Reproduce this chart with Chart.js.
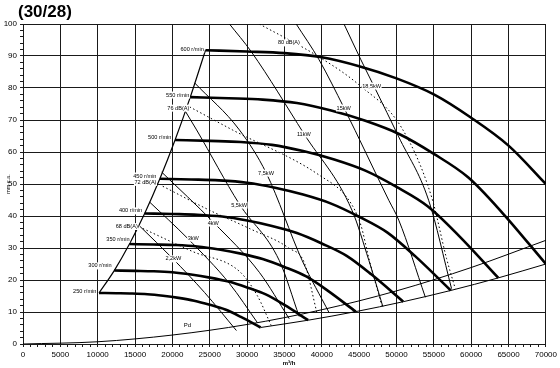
<!DOCTYPE html>
<html><head><meta charset="utf-8">
<script src="https://cdn.jsdelivr.net/npm/chart.js@4"></script>
<style>html,body{margin:0;padding:0;background:#fff}#wrap{width:560px;height:368px;position:relative}</style>
</head><body><div id="wrap"><canvas id="c"></canvas></div>
<script>
// ---- fan speed curves (flow m3/h, pressure mm c.a.) ----
const speedNames = ['250 r/min','300 r/min','350 r/min','400 r/min','450 r/min','500 r/min','550 r/min','600 r/min'];
const flow250 = [10179,12500,14583,16667,18750,20833,22917,25000,27083,29167,31817];
const press250 = [15.94,15.87,15.78,15.56,15.07,14.41,13.54,12.27,10.76,8.47,5.16];
const flow300 = [12215,15000,17500,20000,22500,25000,27500,30000,32500,35000,38180];
const press300 = [22.95,22.85,22.73,22.40,21.70,20.75,19.50,17.68,15.50,12.20,7.44];
const flow350 = [14251,17500,20417,23333,26250,29167,32083,35000,37917,40833,44543];
const press350 = [31.24,31.10,30.93,30.49,29.54,28.24,26.54,24.06,21.10,16.61,10.12];
const flow400 = [16287,20000,23333,26667,30000,33333,36667,40000,43333,46667,50907];
const press400 = [40.80,40.62,40.40,39.82,38.58,36.89,34.67,31.42,27.56,21.69,13.22];
const flow450 = [18323,22500,26250,30000,33750,37500,41250,45000,48750,52500,57270];
const press450 = [51.64,51.41,51.13,50.40,48.83,46.69,43.88,39.77,34.88,27.45,16.73];
const flow500 = [20358,25000,29167,33333,37500,41667,45833,50000,54167,58333,63633];
const press500 = [63.75,63.47,63.13,62.22,60.28,57.64,54.17,49.10,43.06,33.89,20.66];
const flow550 = [22394,27500,32083,36667,41250,45833,50417,55000,59583,64167,70000];
const press550 = [77.14,76.80,76.38,75.29,72.94,69.74,65.54,59.41,52.10,41.01,25.0];
const flow600 = [24430,30000,35000,40000,45000,50000,55000,60000,65000,70000];
const press600 = [91.8,91.4,90.9,89.6,86.8,83.0,78.0,70.7,62.0,50.0];

// ---- left limit (starts of speed curves) ----
const limitFlow = [10179,12215,14251,16287,18323,20358,22394,24430];
const limitPress = [15.94,22.95,31.24,40.80,51.64,63.75,77.14,91.8];

// ---- right limit (ends of speed curves) ----
const endFlow = [31817,38180,44543,50907,57270,63633,70000];
const endPress = [5.16,7.44,10.12,13.22,16.73,20.66,25.0];

// ---- dynamic pressure Pd ----
const pdFlow = [0,10000,20000,30000,40000,50000,60000,70000];
const pdPress = [0,0.7,2.8,6.1,10.7,16.6,23.9,32.4];

// ---- absorbed power lines ----
const powerNames = ['2,2kW','3kW','4kW','5,5kW','7,5kW','11kW','15kW','18,5kW'];
const pw22Flow = [15640,20040,24306,28573];      const pw22Press = [36.8,26.7,16.1,4.2];
const pw3Flow  = [16973,22040,27640,31373];      const pw3Press  = [44.3,33.0,18.9,6.7];
const pw4Flow  = [18573,25506,31640,35640];      const pw4Press  = [53.7,38.0,22.4,7.9];
const pw55Flow = [21640,23240,28973,34306,36973]; const pw55Press = [73.1,66.9,43.7,26.1,8.6];
const pw75Flow = [22973,28973,32573,37373,40973]; const pw75Press = [81.6,66.9,53.4,26.1,9.8];
const pw11Flow = [27640,30573,37640,44040,46306,48173]; const pw11Press = [100,91.3,65.6,41.8,26.1,11.7];
const pw15Flow = [36573,39640,42973,48973,50306,53866]; const pw15Press = [100,88.8,73.8,44.9,38.7,14.6];
const pw185Flow = [42973,45240,47106,50306,54306,57373]; const pw185Press = [100,88.8,80.0,64.7,44.9,17.3];

// ---- noise lines ----
const noiseNames = ['68 dB(A)','72 dB(A)','76 dB(A)','80 dB(A)'];
const n68Flow = [16040,22706,28973,31373,33240]; const n68Press = [36.1,28.9,22.7,15.1,5.7];
const n72Flow = [18706,24973,30306,35640,37640,39373]; const n72Press = [49.3,41.8,36.1,29.9,25.5,9.5];
const n76Flow = [22306,28040,39640,43640,45240,46306,48040]; const n76Press = [74.1,66.9,52.8,44.9,37.1,26.7,12.0];
const n80Flow = [31640,39640,44973,50706,54706,56706,57866]; const n80Press = [100,89.7,81.0,67.5,45.9,26.7,17.3];

// ---- label anchors (data units) ----
const speedLabelFlow = [9830,11870,14270,15960,17870,19870,22270,24200];
const speedLabelPress = [16.5,24.4,32.8,41.6,52.5,64.4,77.8,92.0];
const noiseLabelFlow = [15370,17870,22270,35600];
const noiseLabelPress = [36.7,50.5,73.7,94.1];
const powerLabelFlow = [20130,22800,25470,28930,32530,37600,42930,46670];
const powerLabelPress = [26.6,33.1,37.8,43.4,53.4,65.6,73.75,80.6];
const pdLabelFlow = 22000, pdLabelPress = 5.9;

const xTicks = [0,5000,10000,15000,20000,25000,30000,35000,40000,45000,50000,55000,60000,65000,70000];
const yTicks = [0,10,20,30,40,50,60,70,80,90,100];

function pts(xs, ys){ return xs.map((v,i)=>({x:v,y:ys[i]})); }

const FONT = "'Liberation Sans', Arial, sans-serif";
const datasets = [];
function addLine(xs, ys, w, dash, smooth){
  datasets.push({data: pts(xs,ys), showLine:true, pointRadius:0, borderColor:'#000', backgroundColor:'#000',
    borderWidth:w, borderDash: dash||[], cubicInterpolationMode: smooth?'monotone':'default', tension: smooth?0.4:0, fill:false});
}
addLine(pdFlow, pdPress, 1, null, true);
addLine(endFlow, endPress, 1, null, true);
addLine(limitFlow, limitPress, 1.2, null, true);
[[pw22Flow,pw22Press],[pw3Flow,pw3Press],[pw4Flow,pw4Press],[pw55Flow,pw55Press],[pw75Flow,pw75Press],[pw11Flow,pw11Press],[pw15Flow,pw15Press],[pw185Flow,pw185Press]]
  .forEach(p=>addLine(p[0],p[1],1,null,true));
[[n68Flow,n68Press],[n72Flow,n72Press],[n76Flow,n76Press],[n80Flow,n80Press]]
  .forEach(p=>addLine(p[0],p[1],1,[1.5,2.5],true));
[[flow250,press250],[flow300,press300],[flow350,press350],[flow400,press400],[flow450,press450],[flow500,press500],[flow550,press550],[flow600,press600]]
  .forEach(p=>addLine(p[0],p[1],2.6,null,true));

function textBox(ctx, txt, px, py, align){
  const w = ctx.measureText(txt).width;
  let left = align==='right' ? px - w : (align==='left' ? px : px - w/2);
  ctx.fillStyle = '#fff';
  ctx.fillRect(left-0.5, py-3.5, w+1, 7);
  ctx.fillStyle = '#000';
  ctx.textAlign = 'left';
  ctx.fillText(txt, left, py);
}

const decor = {
  id:'decor',
  afterDatasetsDraw(chart){
    const {ctx, scales:{x,y}} = chart;
    ctx.save();
    ctx.textBaseline = 'middle';
    ctx.font = "5.6px " + FONT;
    speedNames.forEach((t,i)=>textBox(ctx, t, x.getPixelForValue(speedLabelFlow[i]), y.getPixelForValue(speedLabelPress[i]), 'right'));
    noiseNames.forEach((t,i)=>textBox(ctx, t, x.getPixelForValue(noiseLabelFlow[i]), y.getPixelForValue(noiseLabelPress[i]), i===3?'center':'right'));
    powerNames.forEach((t,i)=>textBox(ctx, t, x.getPixelForValue(powerLabelFlow[i]), y.getPixelForValue(powerLabelPress[i]), 'center'));
    ctx.font = "6px " + FONT;
    ctx.fillStyle = '#000'; ctx.textAlign='center';
    ctx.fillText('Pd', x.getPixelForValue(pdLabelFlow), y.getPixelForValue(pdLabelPress));
    ctx.restore();
  },
  afterDraw(chart){
    const {ctx} = chart;
    ctx.save();
    ctx.fillStyle = '#000';
    ctx.textBaseline = 'top';
    ctx.font = "bold 17px " + FONT;
    ctx.textAlign = 'left';
    ctx.fillText('(30/28)', 18, 4);
    ctx.font = "bold 6px " + FONT;
    ctx.textAlign = 'center';
    ctx.fillText('m³/h', 289, 360);
    ctx.translate(8, 184);
    ctx.rotate(-Math.PI/2);
    ctx.font = "5.5px " + FONT;
    ctx.textBaseline = 'middle';
    ctx.fillText('mm c.a.', 0, 0);
    ctx.restore();
  }
};

new Chart(document.getElementById('c'), {
  type:'scatter',
  data:{datasets},
  options:{
    responsive:true, maintainAspectRatio:false, animation:false, devicePixelRatio:1,
    layout:{padding:{left:0, right:12, top:24, bottom:0}},
    plugins:{legend:{display:false}, tooltip:{enabled:false}},
    scales:{
      x:{type:'linear', min:0, max:70000,
        afterFit(s){ s.height = 24; },
        ticks:{stepSize:1000, autoSkip:false, maxRotation:0, padding:3, color:'#000',
          font:{family:FONT, size:8},
          callback:(v)=> xTicks.includes(v) ? String(v) : ''},
        grid:{color:(c)=> (c.tick && xTicks.includes(c.tick.value)) ? '#1a1a1a' : 'rgba(0,0,0,0)', tickColor:'#1a1a1a', tickLength:3, lineWidth:1},
        border:{color:'#1a1a1a'}},
      y:{type:'linear', min:0, max:100,
        afterFit(s){ s.width = 23; },
        ticks:{stepSize:2, autoSkip:false, padding:3, color:'#000',
          font:{family:FONT, size:8},
          callback:(v)=> yTicks.includes(v) ? String(v) : ''},
        grid:{color:(c)=> (c.tick && yTicks.includes(c.tick.value)) ? '#1a1a1a' : 'rgba(0,0,0,0)', tickColor:'#1a1a1a', tickLength:3, lineWidth:1},
        border:{color:'#1a1a1a'}}
    }
  },
  plugins:[decor]
});
</script></body></html>
